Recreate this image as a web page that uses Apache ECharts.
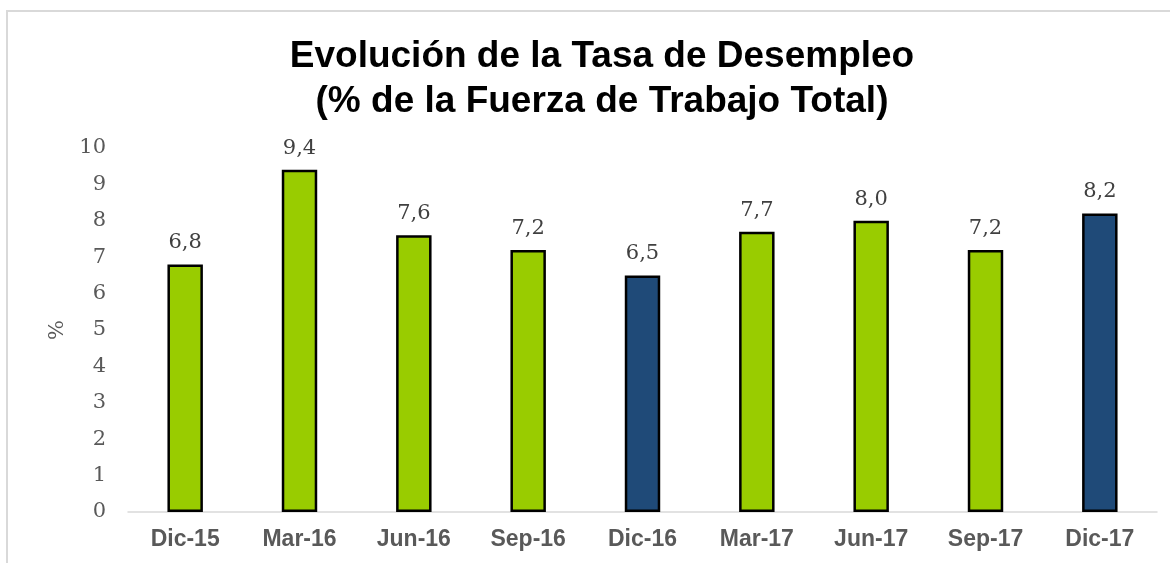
<!DOCTYPE html>
<html>
<head>
<meta charset="utf-8">
<script src="https://cdn.jsdelivr.net/npm/echarts@6/dist/echarts.min.js"></script>
<style>
html,body{margin:0;padding:0;background:#fff;}
#c{width:1170px;height:563px;}
</style>
</head>
<body>
<div id="c"></div>
<script>
const categories = ['Dic-15','Mar-16','Jun-16','Sep-16','Dic-16','Mar-17','Jun-17','Sep-17','Dic-17'];
const values = [6.8, 9.4, 7.6, 7.2, 6.5, 7.7, 8.0, 7.2, 8.2];
const highlighted = ['Dic-16','Dic-17'];
const yTicks = [0,1,2,3,4,5,6,7,8,9,10];

const chart = echarts.init(document.getElementById('c'), null, {renderer:'canvas'});
const serif = 'DejaVu Serif';
chart.setOption({
  animation:false,
  backgroundColor:'#ffffff',
  graphic:[{
    type:'rect', silent:true,
    shape:{x:7, y:11, width:1200, height:600},
    style:{fill:'none', stroke:'#d9d9d9', lineWidth:2}
  }],
  title:{
    text:'Evolución de la Tasa de Desempleo\n(% de la Fuerza de Trabajo Total)',
    left:597, textAlign:'center', top:29,
    textStyle:{fontFamily:'Liberation Sans', fontWeight:'bold', fontSize:37, lineHeight:45, color:'#000'}
  },
  grid:{left:128, right:13, top:148, bottom:51, containLabel:false},
  xAxis:{
    type:'category', data:categories,
    axisLine:{show:true, lineStyle:{color:'#d9d9d9', width:1.5}},
    axisTick:{show:false},
    axisLabel:{fontFamily:'Liberation Sans', fontWeight:'bold', fontSize:23, color:'#595959', margin:16}
  },
  yAxis:{
    type:'value', min:yTicks[0], max:yTicks[yTicks.length-1], interval:1,
    name:'%', nameLocation:'middle', nameGap:60, nameRotate:90,
    nameTextStyle:{fontFamily:serif, fontSize:21, color:'#595959'},
    axisLine:{show:false}, axisTick:{show:false}, splitLine:{show:false},
    axisLabel:{fontFamily:serif, fontSize:21, color:'#595959', margin:22}
  },
  series:[{
    type:'bar', data:values, barWidth:'31%',
    itemStyle:{
      color:function(p){return highlighted.indexOf(categories[p.dataIndex])>=0 ? '#1f4a78' : '#99cc00';},
      borderColor:'#000', borderWidth:2.5
    },
    label:{
      show:true, position:'top', distance:11,
      fontFamily:serif, fontSize:21, color:'#404040',
      formatter:function(p){return p.value.toFixed(1).replace('.',',');}
    }
  }]
});
</script>
</body>
</html>
